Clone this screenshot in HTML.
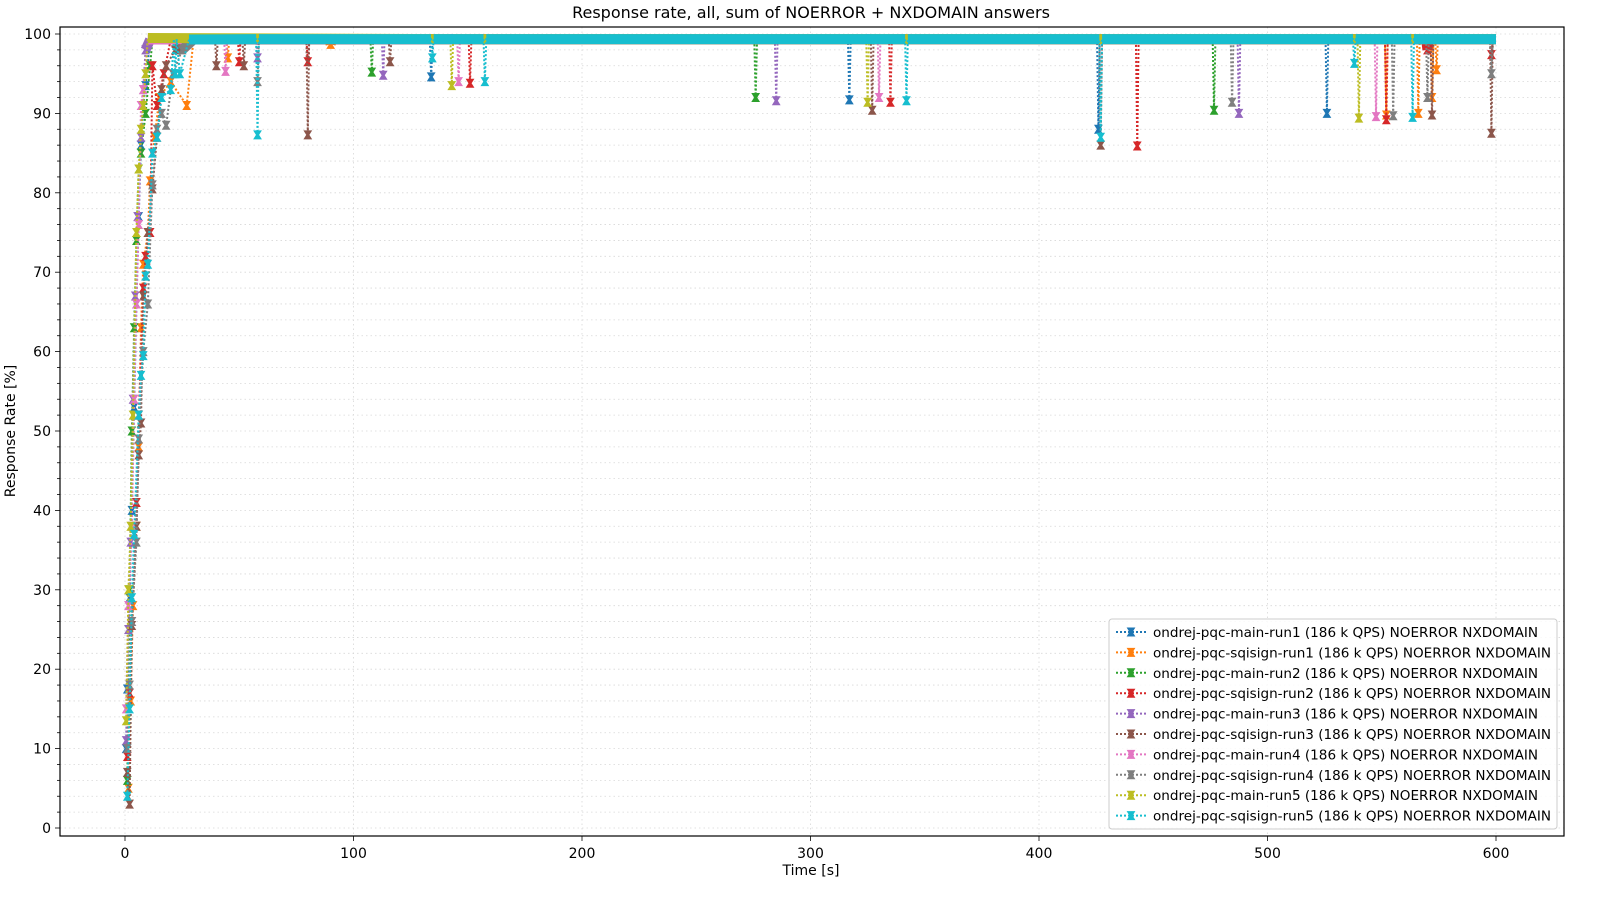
<!DOCTYPE html>
<html><head><meta charset="utf-8"><style>
body{margin:0;background:#fff;font-family:"Liberation Sans","DejaVu Sans",sans-serif}
svg text{font-family:"DejaVu Sans","Liberation Sans",sans-serif}
</style></head><body>
<svg id="chart" width="1600" height="900" xmlns="http://www.w3.org/2000/svg">
<rect width="1600" height="900" fill="#fff"/>
<text x="811" y="18" font-size="16" text-anchor="middle">Response rate, all, sum of NOERROR + NXDOMAIN answers</text>
<g id="grid"></g><g id="plot"></g>
<rect x="60" y="27" width="1504" height="809" fill="none" stroke="#000" stroke-width="1.2"/>
<g id="axes"></g>
<text x="811" y="875" font-size="14" text-anchor="middle">Time [s]</text>
<text transform="translate(15,431) rotate(-90)" font-size="14" text-anchor="middle">Response Rate [%]</text>
<g id="legend"></g>
</svg>
<script>
const names=["ondrej-pqc-main-run1","ondrej-pqc-sqisign-run1","ondrej-pqc-main-run2","ondrej-pqc-sqisign-run2","ondrej-pqc-main-run3","ondrej-pqc-sqisign-run3","ondrej-pqc-main-run4","ondrej-pqc-sqisign-run4","ondrej-pqc-main-run5","ondrej-pqc-sqisign-run5"];
const colors=["#1f77b4","#ff7f0e","#2ca02c","#d62728","#9467bd","#8c564b","#e377c2","#7f7f7f","#bcbd22","#17becf"];
const xTicks=[0,100,200,300,400,500,600];
const yTicks=[0,10,20,30,40,50,60,70,80,90,100];
const baseLevel=99.35;
const ramp0=[[0.5,10],[1,17.5],[2,29],[3,40],[4,53],[5,66],[6,77],[7,86],[8,91],[9,93.5],[11,99.3]];
const ramp1=[[1.5,5],[2.5,16],[3.5,28],[5,38],[6,48],[7,63],[8,71],[10,75],[11,81.5],[13,87],[15,92],[20,94],[27,91],[30,99.3]];
const ramp2=[[1,6],[2,30],[3,50],[4,63],[5,74],[6,83],[7,85],[9,90],[11,96],[12,99.3]];
const ramp3=[[1,9],[2,17],[3,26],[5,41],[6,52],[8,68],[9,72],[11,75],[12,96],[14,91],[17,95],[20,99.3]];
const ramp4=[[0.5,11],[1.5,25],[2.5,36],[3.5,54],[4.5,67],[5.5,77],[7,87],[8,93],[9,98],[11,99.3]];
const ramp5=[[1,7],[2,3],[3,25.5],[5,38],[6,47],[7,51],[8,67],[10,75],[12,80.5],[14,87],[16,93],[18,96],[22,98],[25,99.3]];
const ramp6=[[0.5,15],[1.5,28],[3,38],[4,54],[5,66],[6,76],[7,91],[8,93],[10,99.3]];
const ramp7=[[1,10],[2,18],[3,26],[5,36],[6,49],[8,60],[10,66],[12,81],[14,88],[16,90],[18,88.5],[21,95],[25,98],[30,99.3]];
const ramp8=[[0.5,13.5],[1.5,30],[2.5,38],[3.5,52],[5,75],[6,83],[7,88],[8,91],[9,95],[10,99.5]];
const ramp9=[[1,4],[2,15],[3,29],[4,37],[6,52],[7,57],[8,59.5],[9,69.5],[10,71],[12,85],[14,87],[16,92],[20,93],[24,95],[28,99.3]];
const dips0=[[134,94.6],[317,91.7],[426,88],[526,90]];
const dips1=[[45,97],[90,98.7],[552,89.8],[566,90],[572,92],[574,95.5]];
const dips2=[[108,95.2],[276,92],[476.6,90.4]];
const dips3=[[50,96.5],[80,96.5],[151,93.8],[335,91.4],[443,85.9],[552,89.2],[570,98],[598,97.4]];
const dips4=[[58,97],[113,94.8],[285,91.6],[487.5,90]];
const dips5=[[40,96],[52,96],[80,87.3],[116,96.5],[327,90.4],[427,86],[572,89.8],[598,87.5]];
const dips6=[[44,95.3],[146,94],[330,92],[547.5,89.6]];
const dips7=[[58,94],[484.5,91.4],[555,89.7],[570,92],[598,95]];
const dips8=[[143,93.5],[325,91.4],[540,89.4]];
const dips9=[[22,95],[58,87.3],[134.5,97],[157.5,94],[342,91.6],[427,87],[538,96.3],[563.5,89.5]];
const ramps=[ramp0,ramp1,ramp2,ramp3,ramp4,ramp5,ramp6,ramp7,ramp8,ramp9];
const dipsAll=[dips0,dips1,dips2,dips3,dips4,dips5,dips6,dips7,dips8,dips9];

const NS="http://www.w3.org/2000/svg";
const X=t=>125+t*2.285, Y=v=>828-v*7.94;
function mk(tag,attrs,parent){const e=document.createElementNS(NS,tag);for(const k in attrs)e.setAttribute(k,attrs[k]);parent.appendChild(e);return e;}
const grid=document.getElementById('grid'),axes=document.getElementById('axes'),plot=document.getElementById('plot'),legend=document.getElementById('legend');
for(let v=0;v<=100;v+=2){const y=Y(v);
 const l=mk('line',{x1:60,x2:1564,y1:y,y2:y,stroke:'#d8d8d8','stroke-width':0.8,'stroke-dasharray':'1.5,3'},grid);
 
 const tk=mk('line',{x1:60,x2:v%10===0?55:57,y1:y,y2:y,stroke:'#000','stroke-width':0.8},axes);
 }
yTicks.forEach(v=>{const t=mk('text',{x:51,y:Y(v)+5,'font-size':14,'text-anchor':'end'},axes);t.textContent=v;
 });
xTicks.forEach(v=>{const x=X(v);
 const g=mk('line',{x1:x,x2:x,y1:27,y2:836,stroke:'#d8d8d8','stroke-width':0.8,'stroke-dasharray':'1.5,3'},grid);
 
 const tk=mk('line',{x1:x,x2:x,y1:836,y2:841,stroke:'#000','stroke-width':0.8},axes);
 
 const t=mk('text',{x:x,y:858,'font-size':14,'text-anchor':'middle'},axes);t.textContent=v;
 });
function hourglass(cx,cy,c,parent){const p=mk('path',{d:`M${cx-3.5},${cy-4}h7l-2.5,4l2.5,4h-7l2.5,-4z`,fill:c,stroke:c,'stroke-width':1},parent);return p;}
ramps.forEach((ramp,i)=>{
 const pts=ramp.slice();
 const dips=dipsAll[i];
 dips.forEach(d=>{pts.push([d[0]-0.6,baseLevel]);pts.push(d);pts.push([d[0]+0.6,baseLevel]);});
 pts.push([600,baseLevel]);
 pts.sort((a,b)=>a[0]-b[0]);
 const g=mk('g',{},plot);
 for(let k=1;k<pts.length;k++){const a=pts[k-1],b=pts[k];
  if(a[1]>=98&&b[1]>=98){const s=mk('line',{x1:X(a[0]),x2:X(b[0]),y1:Y(a[1]),y2:Y(b[1]),stroke:colors[i],'stroke-width':10},g);
   }}
 const pl=mk('polyline',{points:pts.map(p=>X(p[0])+','+Y(p[1])).join(' '),fill:'none',stroke:colors[i],'stroke-width':2,'stroke-dasharray':'2,2'},g);
 
 pts.forEach(p=>{if(p[1]<99){const m=hourglass(X(p[0]),Y(p[1]),colors[i],g);
  }});
});
const lb=mk('rect',{x:1109,y:619,width:448,height:210,rx:3,fill:'#fff','fill-opacity':0.85,stroke:'#ccc'},legend);

names.forEach((n,i)=>{const y=632+i*20.4;
 const g=mk('g',{},legend);
 const l=mk('line',{x1:1116,x2:1146,y1:y,y2:y,stroke:colors[i],'stroke-width':2,'stroke-dasharray':'2,2'},g);
 
 const m=hourglass(1131,y,colors[i],g);
 const t=mk('text',{x:1153,y:y+5,'font-size':13.4,textLength:n.indexOf('sqisign')>0?398:385,lengthAdjust:'spacingAndGlyphs'},g);t.textContent=n+' (186 k QPS) NOERROR NXDOMAIN';
 });
</script>
</body></html>
